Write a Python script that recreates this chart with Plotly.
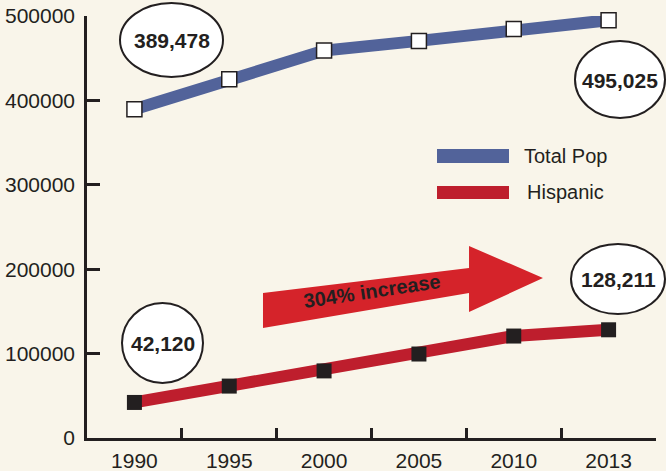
import plotly.graph_objects as go

YEARS = ["1990", "1995", "2000", "2005", "2010", "2013"]
TOTAL_POP = [389478, 425000, 459000, 470500, 484500, 495025]
HISPANIC = [42120, 61500, 79500, 99500, 120800, 128211]
Y_TICKS = [0, 100000, 200000, 300000, 400000, 500000]

BG = "#F9F5EA"
INK = "#231F20"
BLUE = "#52639A"
RED = "#BE1E2D"
ARROW_RED = "#D5232A"
FONT = "Liberation Sans, Arial, Helvetica, sans-serif"

W, H = 666, 471
L, R, T, B = 87, 10, 16, 33
PW, PH = W - L - R, H - T - B


def px(x, y):
    # pixel position -> paper coordinates
    return (x - L) / PW, (H - B - y) / PH


def ellipse(x0, y0, x1, y1):
    a, b = px(x0, y1)
    c, d = px(x1, y0)
    return dict(type="circle", xref="paper", yref="paper", x0=a, y0=b, x1=c, y1=d,
                fillcolor="white", line=dict(color=INK, width=2), layer="above")


def label(x, y, text, size=21, bold=True, angle=0, anchor="center"):
    a, b = px(x, y)
    t = f"<b>{text}</b>" if bold else text
    return dict(xref="paper", yref="paper", x=a, y=b, text=t, showarrow=False,
                xanchor=anchor, yanchor="middle", textangle=angle,
                font=dict(family=FONT, size=size, color=INK))


fig = go.Figure()
fig.add_trace(go.Scatter(x=YEARS, y=TOTAL_POP, mode="lines+markers", name="Total Pop",
    line=dict(color=BLUE, width=12),
    marker=dict(symbol="square", size=15, color="white", line=dict(color=INK, width=1.5)),
    cliponaxis=False, showlegend=False))
fig.add_trace(go.Scatter(x=YEARS, y=HISPANIC, mode="lines+markers", name="Hispanic",
    line=dict(color=RED, width=12),
    marker=dict(symbol="square", size=15, color=INK, line=dict(color=INK, width=0)),
    cliponaxis=False, showlegend=False))

# arrow
arrow_pts = [(263, 328), (263, 293), (469, 268), (469, 246), (543, 278),
             (469, 312), (469, 293)]
path = "M" + " L".join(f"{px(x, y)[0]:.4f},{px(x, y)[1]:.4f}" for x, y in arrow_pts) + " Z"

shapes = [
    dict(type="path", xref="paper", yref="paper", path=path, fillcolor=ARROW_RED,
         line=dict(width=0), layer="above"),
    ellipse(120, 3, 223, 77),
    ellipse(575, 41, 665, 118),
    ellipse(122, 303, 203, 383),
    ellipse(571, 244, 665, 314),
]
# legend swatches
for y0, y1, c in [(149, 163, BLUE), (186, 199, RED)]:
    a, b = px(437, y1)
    cc, d = px(509, y0)
    shapes.append(dict(type="rect", xref="paper", yref="paper", x0=a, y0=b, x1=cc, y1=d,
                       fillcolor=c, line=dict(width=0)))

annotations = [
    label(172, 40, "389,478"),
    label(620, 80, "495,025"),
    label(163, 343, "42,120"),
    label(618, 279, "128,211"),
    label(372, 291, "304% increase", size=20, angle=-8.5),
    label(522, 156, "Total Pop", size=20, bold=False, anchor="left"),
    label(525, 192, "Hispanic", size=20, bold=False, anchor="left"),
]

fig.update_layout(
    width=W, height=H, margin=dict(l=L, r=R, t=T, b=B),
    paper_bgcolor=BG, plot_bgcolor=BG, showlegend=False,
    font=dict(family=FONT, size=21, color=INK),
    shapes=shapes, annotations=annotations,
)
fig.update_xaxes(type="category", range=[-0.5, 5.5], tickson="boundaries",
    ticks="inside", ticklen=10, tickwidth=2.5, tickcolor=INK, automargin=False,
    showline=True, linecolor=INK, linewidth=2.5, showgrid=False, zeroline=False,
    tickfont=dict(size=21, color=INK), ticklabelstandoff=2)
fig.update_yaxes(range=[0, 500000], tickvals=Y_TICKS, ticktext=[str(v) for v in Y_TICKS],
    ticks="inside", ticklen=13, tickwidth=2.5, tickcolor=INK, automargin=False,
    showline=True, linecolor=INK, linewidth=2.5, showgrid=False, zeroline=False,
    tickfont=dict(size=21, color=INK), ticklabelstandoff=5)

# page body has a default 8px margin; drop it so the figure fills the window
fig.write_html("out.html", config={"displayModeBar": False},
    post_script="document.body.style.margin='0';document.body.style.background='%s';" % BG)
